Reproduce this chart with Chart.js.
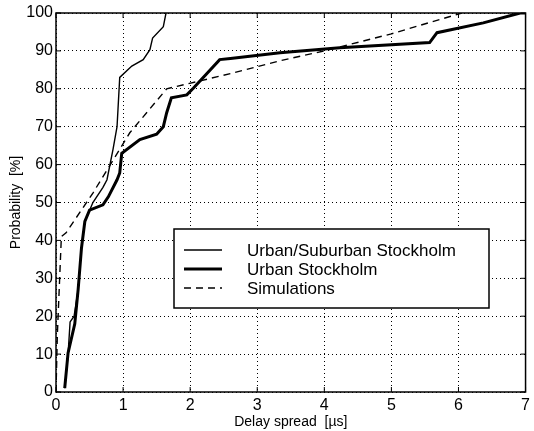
<!DOCTYPE html>
<html>
<head>
<meta charset="utf-8">
<script src="https://cdn.jsdelivr.net/npm/chart.js@4"></script>
<style>
  html, body { margin: 0; padding: 0; background: #fff; }
  #wrap { width: 534px; height: 431px; }
</style>
</head>
<body>
<div id="wrap"><canvas id="cdf"></canvas></div>
<script>
// delay spread in microseconds, probability in percent
const suburbX = [0.13, 0.18, 0.21, 0.27, 0.33, 0.38, 0.43, 0.55, 0.70, 0.76, 0.85, 0.91, 0.95, 1.13, 1.30, 1.40, 1.44, 1.60, 1.64];
const suburbY = [1, 10, 18.5, 20, 27, 38, 45, 50, 54, 56, 64, 70, 83, 86, 87.7, 90.3, 93.4, 96.4, 100];

const urbanX = [0.13, 0.18, 0.28, 0.33, 0.38, 0.43, 0.50, 0.70, 0.78, 0.91, 0.95, 0.98, 1.25, 1.50, 1.60, 1.65, 1.72, 1.95, 2.05, 2.44, 2.60, 3.34, 4.23, 5.57, 5.68, 6.37, 6.92, 7.0];
const urbanY = [1, 10.3, 18, 27, 38, 45, 48, 49.4, 51.5, 56, 57.8, 63, 66.6, 68, 70, 73.7, 77.6, 78.4, 80.2, 87.7, 88, 89.5, 90.8, 92.2, 94.8, 97.4, 100, 100];

const simX = [0, 0.02, 0.08, 0.15, 0.55, 1.10, 1.65, 2.60, 3.34, 4.0, 5.0, 6.05];
const simY = [0, 15, 41, 42, 52.5, 68.4, 80, 84, 87.4, 90, 94.5, 100];

const xTicks = [0, 1, 2, 3, 4, 5, 6, 7];
const yTicks = [0, 10, 20, 30, 40, 50, 60, 70, 80, 90, 100];

const seriesNames = ["Urban/Suburban Stockholm", "Urban Stockholm", "Simulations"];

function pts(xs, ys) {
    return xs.map(function(x, i) { return { x: x, y: ys[i] }; });
}

const font = "Liberation Sans, Arial, Helvetica, sans-serif";

// frame, inward ticks and the boxed legend inside the plot
const framePlugin = {
    id: 'frame',
    afterDraw: function(chart) {
        const ctx = chart.ctx;
        const a = chart.chartArea;
        const xs = chart.scales.x, ys = chart.scales.y;
        ctx.save();
        ctx.strokeStyle = '#000';
        ctx.lineWidth = 1.5;
        ctx.setLineDash([]);
        ctx.strokeRect(a.left, a.top, a.right - a.left, a.bottom - a.top);
        ctx.lineWidth = 1;
        ctx.beginPath();
        xTicks.forEach(function(v) {
            const px = xs.getPixelForValue(v);
            ctx.moveTo(px, a.bottom); ctx.lineTo(px, a.bottom - 5);
            ctx.moveTo(px, a.top); ctx.lineTo(px, a.top + 5);
        });
        yTicks.forEach(function(v) {
            const py = ys.getPixelForValue(v);
            ctx.moveTo(a.left, py); ctx.lineTo(a.left + 5, py);
            ctx.moveTo(a.right, py); ctx.lineTo(a.right - 5, py);
        });
        ctx.stroke();

        // legend box
        const bx = 174, by = 229, bw = 315, bh = 79;
        ctx.fillStyle = '#fff';
        ctx.fillRect(bx, by, bw, bh);
        ctx.lineWidth = 1.5;
        ctx.strokeRect(bx, by, bw, bh);
        const rows = [250, 269, 288];
        const ds = chart.data.datasets;
        ctx.font = '17px ' + font;
        ctx.textBaseline = 'middle';
        ctx.textAlign = 'left';
        rows.forEach(function(ry, i) {
            ctx.beginPath();
            ctx.lineWidth = ds[i].borderWidth;
            ctx.setLineDash(ds[i].borderDash || []);
            ctx.moveTo(184, ry); ctx.lineTo(222, ry);
            ctx.stroke();
            ctx.setLineDash([]);
            ctx.fillStyle = '#000';
            ctx.fillText(seriesNames[i], 247, ry + 1);
        });
        ctx.restore();
    }
};

new Chart(document.getElementById("cdf"), {
    type: 'line',
    data: {
        datasets: [
            {
                label: seriesNames[0],
                data: pts(suburbX, suburbY),
                borderColor: '#000',
                borderWidth: 1.4,
                pointRadius: 0,
                tension: 0
            },
            {
                label: seriesNames[1],
                data: pts(urbanX, urbanY),
                borderColor: '#000',
                borderWidth: 3,
                pointRadius: 0,
                tension: 0
            },
            {
                label: seriesNames[2],
                data: pts(simX, simY),
                borderColor: '#000',
                borderWidth: 1.4,
                borderDash: [7, 5],
                pointRadius: 0,
                tension: 0
            }
        ]
    },
    options: {
        responsive: true,
        maintainAspectRatio: false,
        animation: false,
        layout: { padding: { left: 0, right: 8, top: 13, bottom: 0 } },
        plugins: {
            legend: { display: false },
            tooltip: { enabled: false }
        },
        scales: {
            x: {
                type: 'linear',
                min: 0,
                max: 7,
                afterFit: function(s) { s.height = 39; },
                afterBuildTicks: function(s) { s.ticks = xTicks.map(function(v) { return { value: v }; }); },
                grid: { color: '#000', lineWidth: 1, drawTicks: false },
                border: { display: false, dash: [1, 3] },
                ticks: { color: '#000', font: { family: font, size: 16 }, padding: 4, maxRotation: 0 },
                title: {
                    display: true,
                    text: 'Delay spread  [µs]',
                    color: '#000',
                    font: { family: font, size: 14 },
                    padding: { top: -2, bottom: 0 }
                }
            },
            y: {
                min: 0,
                max: 100,
                afterFit: function(s) { s.width = 56; },
                afterBuildTicks: function(s) { s.ticks = yTicks.map(function(v) { return { value: v }; }); },
                grid: { color: '#000', lineWidth: 1, drawTicks: false },
                border: { display: false, dash: [1, 3] },
                ticks: { color: '#000', font: { family: font, size: 16 }, padding: 3 },
                title: {
                    display: true,
                    text: 'Probability  [%]',
                    color: '#000',
                    font: { family: font, size: 14 },
                    padding: { top: 8, bottom: 2 }
                }
            }
        }
    },
    plugins: [framePlugin]
});
</script>
</body>
</html>
